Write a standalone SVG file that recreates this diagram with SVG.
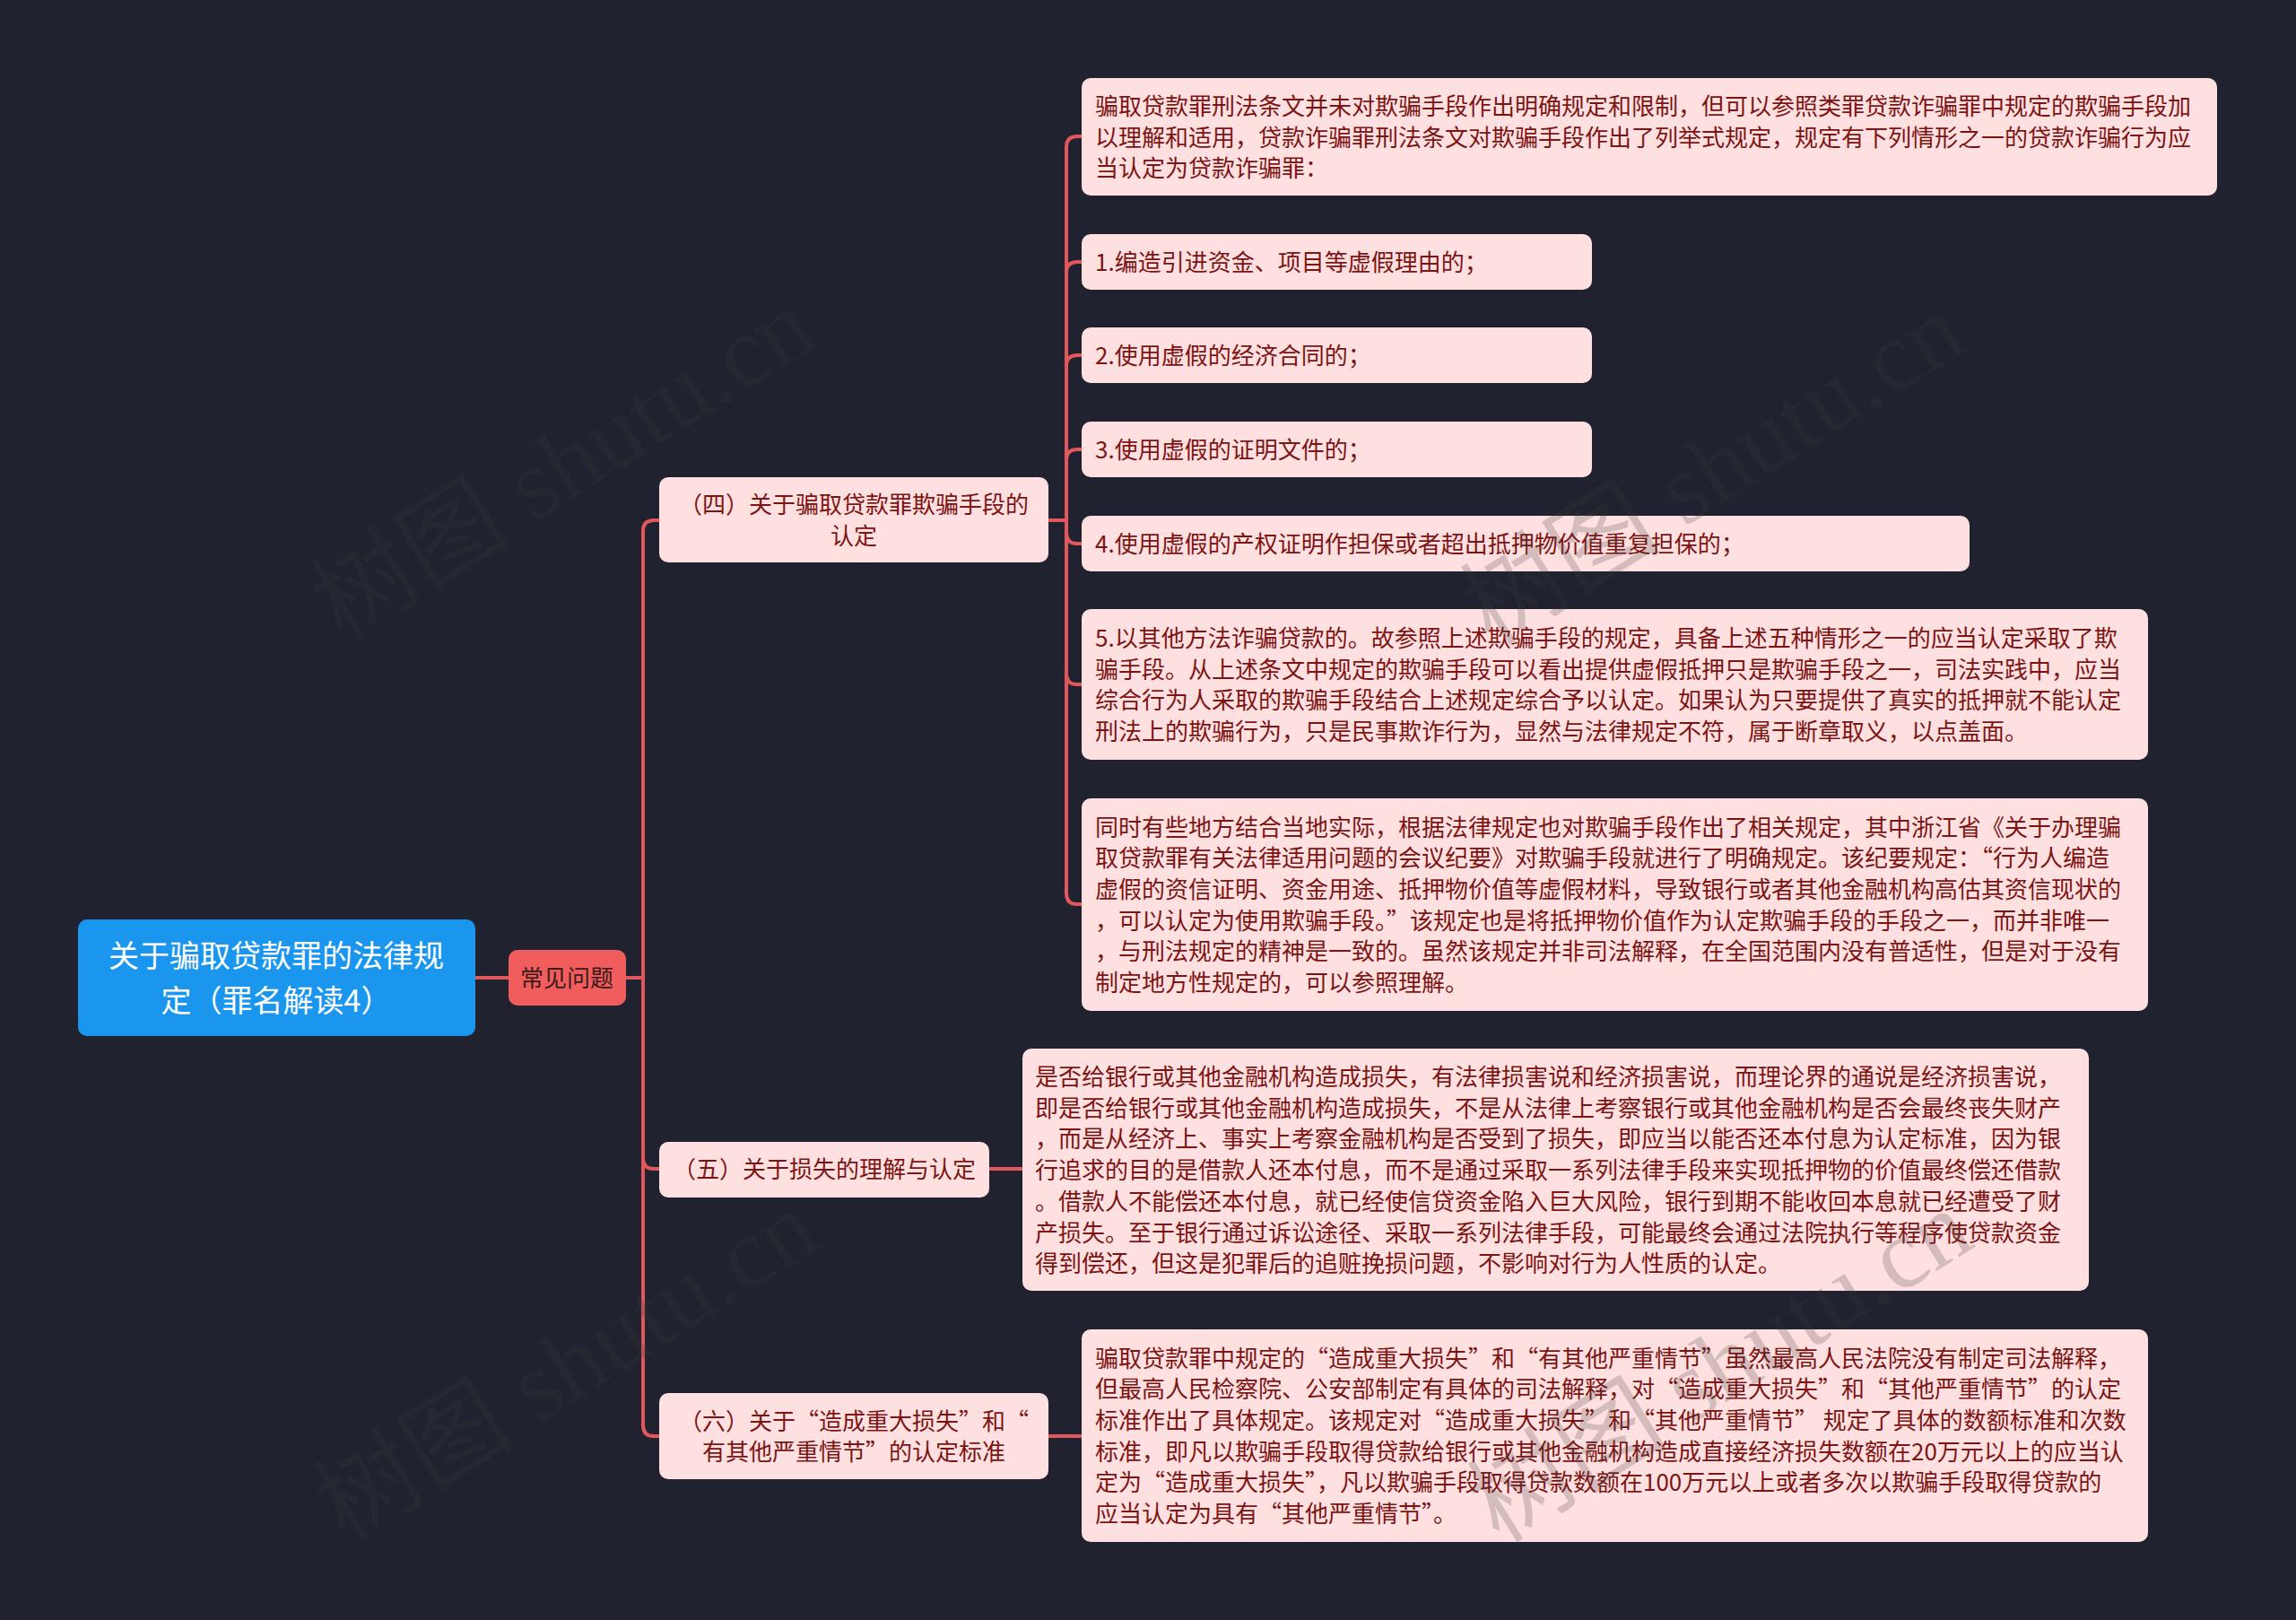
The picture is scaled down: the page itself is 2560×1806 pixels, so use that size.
<svg xmlns="http://www.w3.org/2000/svg" width="2560" height="1806" viewBox="0 0 2560 1806">
<style>
.bg{fill:#20232f}
.pink{fill:#ffe0e0}
.t{font-family:"Noto Sans CJK SC","Noto Sans",sans-serif;font-size:26px;fill:#7d1414}
.c{text-anchor:middle}
.link{fill:none;stroke:#e0585c;stroke-width:4;stroke-linecap:round}
.wm{font-family:"Liberation Serif","Noto Sans CJK SC",serif;font-size:112px;fill:#3c3c3c;fill-opacity:0.22}
</style>
<rect class="bg" x="0" y="0" width="2560" height="1806"/>
<g id="connectors">
<path class="link" d="M529,1090 H567"/>
<path class="link" d="M697,1090 H717 V592 Q717,580 729,580 H735"/>
<path class="link" d="M697,1090 H717 V1291 Q717,1303 729,1303 H735"/>
<path class="link" d="M697,1090 H717 V1589 Q717,1601 729,1601 H735"/>
<path class="link" d="M1169,580 H1189 V164 Q1189,152 1201,152 H1206"/>
<path class="link" d="M1169,580 H1189 V304 Q1189,292 1201,292 H1206"/>
<path class="link" d="M1169,580 H1189 V408 Q1189,396 1201,396 H1206"/>
<path class="link" d="M1169,580 H1189 V513 Q1189,501 1201,501 H1206"/>
<path class="link" d="M1169,580 H1189 V594 Q1189,606 1201,606 H1206"/>
<path class="link" d="M1169,580 H1189 V751 Q1189,763 1201,763 H1206"/>
<path class="link" d="M1169,580 H1189 V996 Q1189,1008 1201,1008 H1206"/>
<path class="link" d="M1103,1303 H1140"/>
<path class="link" d="M1169,1601 H1206"/>
</g>
<g id="root">
<rect x="87" y="1025" width="443" height="130" rx="10" fill="#1b96ee"/>
<text class="t c" x="308" y="1078" style="font-size:34px;fill:#ffffff">关于骗取贷款罪的法律规</text>
<text class="t c" x="308" y="1128" style="font-size:34px;fill:#ffffff">定（罪名解读4）</text>
</g>
<g id="n-common">
<rect x="567" y="1059" width="131" height="62" rx="10" fill="#f15d5d"/>
<text class="t c" x="632" y="1100" style="fill:#3a1b1b">常见问题</text>
</g>
<g id="n4">
<rect class="pink" x="735" y="532" width="434" height="95" rx="10"/>
<text class="t c" x="952" y="572">（四）关于骗取贷款罪欺骗手段的</text>
<text class="t c" x="952" y="607">认定</text>
</g>
<g id="n5">
<rect class="pink" x="735" y="1273" width="368" height="62" rx="10"/>
<text class="t c" x="919" y="1313">（五）关于损失的理解与认定</text>
</g>
<g id="n6">
<rect class="pink" x="735" y="1553" width="434" height="96" rx="10"/>
<text class="t c" x="952" y="1594">（六）关于“造成重大损失”和“</text>
<text class="t c" x="952" y="1628">有其他严重情节”的认定标准</text>
</g>
<g id="leaf4-0">
<rect class="pink" x="1206" y="87" width="1266" height="131" rx="10"/>
<text class="t" x="1221" y="128">骗取贷款罪刑法条文并未对欺骗手段作出明确规定和限制，但可以参照类罪贷款诈骗罪中规定的欺骗手段加</text>
<text class="t" x="1221" y="163">以理解和适用，贷款诈骗罪刑法条文对欺骗手段作出了列举式规定，规定有下列情形之一的贷款诈骗行为应</text>
<text class="t" x="1221" y="197">当认定为贷款诈骗罪：</text>
</g>
<g id="leaf4-1">
<rect class="pink" x="1206" y="261" width="569" height="62" rx="10"/>
<text class="t" x="1221" y="302">1.编造引进资金、项目等虚假理由的；</text>
</g>
<g id="leaf4-2">
<rect class="pink" x="1206" y="365" width="569" height="62" rx="10"/>
<text class="t" x="1221" y="406">2.使用虚假的经济合同的；</text>
</g>
<g id="leaf4-3">
<rect class="pink" x="1206" y="470" width="569" height="62" rx="10"/>
<text class="t" x="1221" y="511">3.使用虚假的证明文件的；</text>
</g>
<g id="leaf4-4">
<rect class="pink" x="1206" y="575" width="990" height="62" rx="10"/>
<text class="t" x="1221" y="616">4.使用虚假的产权证明作担保或者超出抵押物价值重复担保的；</text>
</g>
<g id="leaf4-5">
<rect class="pink" x="1206" y="679" width="1189" height="168" rx="10"/>
<text class="t" x="1221" y="721">5.以其他方法诈骗贷款的。故参照上述欺骗手段的规定，具备上述五种情形之一的应当认定采取了欺</text>
<text class="t" x="1221" y="756">骗手段。从上述条文中规定的欺骗手段可以看出提供虚假抵押只是欺骗手段之一，司法实践中，应当</text>
<text class="t" x="1221" y="790">综合行为人采取的欺骗手段结合上述规定综合予以认定。如果认为只要提供了真实的抵押就不能认定</text>
<text class="t" x="1221" y="825">刑法上的欺骗行为，只是民事欺诈行为，显然与法律规定不符，属于断章取义，以点盖面。</text>
</g>
<g id="leaf4-6">
<rect class="pink" x="1206" y="890" width="1189" height="237" rx="10"/>
<text class="t" x="1221" y="932">同时有些地方结合当地实际，根据法律规定也对欺骗手段作出了相关规定，其中浙江省《关于办理骗</text>
<text class="t" x="1221" y="966">取贷款罪有关法律适用问题的会议纪要》对欺骗手段就进行了明确规定。该纪要规定：“行为人编造</text>
<text class="t" x="1221" y="1001">虚假的资信证明、资金用途、抵押物价值等虚假材料，导致银行或者其他金融机构高估其资信现状的</text>
<text class="t" x="1221" y="1036">，可以认定为使用欺骗手段。”该规定也是将抵押物价值作为认定欺骗手段的手段之一，而并非唯一</text>
<text class="t" x="1221" y="1070">，与刑法规定的精神是一致的。虽然该规定并非司法解释，在全国范围内没有普适性，但是对于没有</text>
<text class="t" x="1221" y="1105">制定地方性规定的，可以参照理解。</text>
</g>
<g id="leaf5">
<rect class="pink" x="1140" y="1169" width="1189" height="270" rx="10"/>
<text class="t" x="1154" y="1210">是否给银行或其他金融机构造成损失，有法律损害说和经济损害说，而理论界的通说是经济损害说，</text>
<text class="t" x="1154" y="1245">即是否给银行或其他金融机构造成损失，不是从法律上考察银行或其他金融机构是否会最终丧失财产</text>
<text class="t" x="1154" y="1279">，而是从经济上、事实上考察金融机构是否受到了损失，即应当以能否还本付息为认定标准，因为银</text>
<text class="t" x="1154" y="1314">行追求的目的是借款人还本付息，而不是通过采取一系列法律手段来实现抵押物的价值最终偿还借款</text>
<text class="t" x="1154" y="1349">。借款人不能偿还本付息，就已经使信贷资金陷入巨大风险，银行到期不能收回本息就已经遭受了财</text>
<text class="t" x="1154" y="1384">产损失。至于银行通过诉讼途径、采取一系列法律手段，可能最终会通过法院执行等程序使贷款资金</text>
<text class="t" x="1154" y="1418">得到偿还，但这是犯罪后的追赃挽损问题，不影响对行为人性质的认定。</text>
</g>
<g id="leaf6">
<rect class="pink" x="1206" y="1482" width="1189" height="237" rx="10"/>
<text class="t" x="1221" y="1524">骗取贷款罪中规定的“造成重大损失”和“有其他严重情节”虽然最高人民法院没有制定司法解释，</text>
<text class="t" x="1221" y="1558">但最高人民检察院、公安部制定有具体的司法解释，对“造成重大损失”和“其他严重情节”的认定</text>
<text class="t" x="1221" y="1593">标准作出了具体规定。该规定对“造成重大损失”和“其他严重情节” 规定了具体的数额标准和次数</text>
<text class="t" x="1221" y="1628">标准，即凡以欺骗手段取得贷款给银行或其他金融机构造成直接经济损失数额在20万元以上的应当认</text>
<text class="t" x="1221" y="1662">定为“造成重大损失”，凡以欺骗手段取得贷款数额在100万元以上或者多次以欺骗手段取得贷款的</text>
<text class="t" x="1221" y="1697">应当认定为具有“其他严重情节”。</text>
</g>
<g id="watermarks">
<text class="wm c" transform="translate(648,550) rotate(-32)">树图 shutu.cn</text>
<text class="wm c" transform="translate(1930,555) rotate(-32)">树图 shutu.cn</text>
<text class="wm c" transform="translate(652,1555) rotate(-32)">树图 shutu.cn</text>
<text class="wm c" transform="translate(1938,1555) rotate(-32)">树图 shutu.cn</text>
</g>
</svg>
